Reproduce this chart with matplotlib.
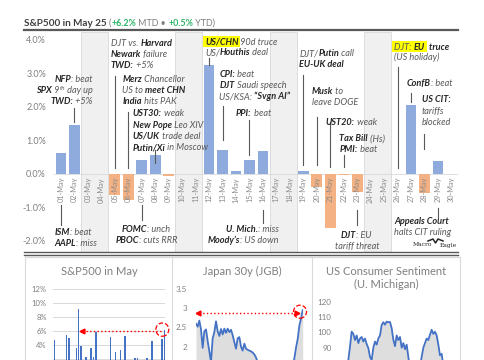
import matplotlib
matplotlib.use("Agg")
import matplotlib.pyplot as plt
from matplotlib.patches import Ellipse, Rectangle
from matplotlib.lines import Line2D

# ---- data ----
days = list(range(1, 31))
day_labels = [f"{d:02d}-May" for d in days]
trade_days = [1, 2, 5, 6, 7, 8, 9, 12, 13, 14, 15, 16, 19, 20, 21, 22, 23, 27, 28, 29, 30]
spx_chg = [0.63, 1.47, -0.64, -0.77, 0.43, 0.58, -0.07, 3.26, 0.72, 0.10, 0.41, 0.70,
           0.09, -0.39, -1.61, -0.04, -0.55, 2.05, -0.56, 0.40, -0.01]
weekends = [(3, 4), (10, 11), (17, 18), (24, 25)]

years = list(range(1980, 2026))
may_ret = [4.66, -0.19, -3.92, -1.16, -5.94, 5.41, 5.00, 0.60, 0.32, 3.51,
           9.20, 3.86, 0.10, 2.27, 1.23, 3.63, 2.29, 5.86, -1.88, -2.50,
           -2.19, 0.51, -0.91, 5.09, 1.21, 3.00, -3.09, 3.25, 1.07, 5.31,
           -8.20, -1.35, -6.27, 2.08, 2.10, 1.05, 1.53, 1.16, 2.16, -6.58,
           4.53, 0.55, 0.01, 0.25, 4.80, 6.15]

jgb30 = [2.60, 2.52, 2.68, 2.45, 1.97, 2.40, 2.45, 2.15, 1.88, 1.60,
         2.22, 2.38, 2.66, 2.40, 2.28, 2.46, 2.32, 2.47, 2.36, 2.47,
         2.38, 2.44, 2.30, 2.12, 1.95, 2.22, 2.25, 2.00, 1.90, 2.08,
         1.95, 1.92, 1.90, 1.88, 1.85, 1.80, 1.72, 1.60, 1.40, 1.20,
         1.00, 0.80, 0.60, 0.45, 0.35, 0.30, 0.45, 0.55, 0.50, 0.65,
         0.60, 0.70, 0.75, 0.70, 0.72, 0.85, 1.00, 1.25, 1.45, 1.70,
         1.98, 2.20, 2.55, 2.73, 2.95]

umich = [75, 70, 68, 72, 78, 82, 90.7, 100.5, 99, 95,
         98, 93, 96, 97, 94, 96, 92.4, 89.8, 84, 82,
         90, 94, 92, 96, 98, 104.8, 106.6, 105, 107, 106.6,
         106.8, 102.7, 95.3, 91, 98, 95, 97, 90, 93, 89,
         92, 84, 76, 62, 58, 68, 72, 75, 78, 84,
         90, 93, 96, 95, 98.5, 101.7, 99, 100.4, 98, 92,
         85, 86, 78, 72, 60, 68, 52]

# ---- layout helpers (pixel coords, y from top) ----
W, H = 485, 360
plt.rcParams['font.family'] = ['Lato', 'DejaVu Sans']
fig = plt.figure(figsize=(W / 100, H / 100), dpi=100)
renderer = fig.canvas.get_renderer()

TXT_C = '#595959'
BOLD_C = '#262626'
GRAY = '#7f7f7f'
BLUE = '#8faadc'
ORANGE = '#f4b183'
LINE_BLUE = '#4472c4'


def box(x0, y0, x1, y1):
    return [x0 / W, 1 - y1 / H, (x1 - x0) / W, (y1 - y0) / H]


def text_w(s, **kw):
    t = fig.text(0, 0, '|' + s + '|', **kw)
    t0 = fig.text(0, 0, '||', **kw)
    w = t.get_window_extent(renderer).width - t0.get_window_extent(renderer).width
    t.remove()
    t0.remove()
    return w


def rich(x, y, parts, ha='left', size=6.6, style='italic'):
    """draw one line made of (text, bold, opts) pieces; y is the line centre"""
    items = []
    for p in parts:
        s, b = p[0], p[1]
        o = p[2] if len(p) > 2 else {}
        kw = dict(fontsize=o.get('size', size), fontweight='bold' if b else 'normal',
                  style=o.get('style', style), color=o.get('color', BOLD_C if b else TXT_C))
        items.append((s, kw, o))
    widths = [text_w(s, **kw) for s, kw, o in items]
    total = sum(widths)
    x0 = x - total if ha == 'right' else (x - total / 2 if ha == 'center' else x)
    hl = []
    for (s, kw, o), w in zip(items, widths):
        fig.text(x0 / W, 1 - (y + 3 - o.get('dy', 0)) / H, s, va='baseline', ha='left', zorder=3, **kw)
        if o.get('hl'):
            hl.append((x0, x0 + w))
        x0 += w
    if hl:
        a, b = hl[0][0] - 2, hl[-1][1] + 2
        fig.add_artist(Rectangle((a / W, 1 - (y + 5.5) / H), (b - a) / W, 11.5 / H,
                                 transform=fig.transFigure, facecolor='#ffff00',
                                 edgecolor='none', zorder=1))


def hline(x0, x1, y, **kw):
    fig.add_artist(Line2D([x0 / W, x1 / W], [1 - y / H, 1 - y / H], transform=fig.transFigure, **kw))


def vline(x, y0, y1, **kw):
    fig.add_artist(Line2D([x / W, x / W], [1 - y0 / H, 1 - y1 / H], transform=fig.transFigure, **kw))


# ---- title ----
G = '#2fb56a'
rich(24, 22.5, [("S&P500 in May 25 ", True, {'color': '#404040', 'style': 'normal', 'size': 7.2}),
                ("(", False, {'color': GRAY, 'style': 'normal', 'size': 6.4}),
                ("+6.2%", True, {'color': G, 'style': 'normal', 'size': 6.4}),
                (" MTD \u2022 ", False, {'color': GRAY, 'style': 'normal', 'size': 6.4}),
                ("+0.5%", True, {'color': G, 'style': 'normal', 'size': 6.4}),
                (" YTD)", False, {'color': GRAY, 'style': 'normal', 'size': 6.4})])
hline(24, 458, 30, color='#595959', lw=1.6)
hline(24, 458, 251.7, color='#595959', lw=1.0)
hline(24, 458, 255, color='#595959', lw=1.0)

# ---- main daily chart ----
ax = fig.add_axes(box(54.3, 32, 458.1, 252))
ax.set_xlim(0.5, 30.5)
ax.set_ylim(-(252 - 174) / 33.5, (174 - 32) / 33.5)
for a, b in weekends:
    ax.axvspan(a - 0.5, b + 0.5, facecolor='#f0f0f0', edgecolor='#d9d9d9', lw=0.6, zorder=0)
ax.axhline(0, color='#d9d9d9', lw=0.6, zorder=1)
ax.bar(trade_days, spx_chg, width=0.8,
       color=[BLUE if v >= 0 else ORANGE for v in spx_chg], zorder=2)
for d, lab in zip(days, day_labels):
    ax.text(d, -0.09, lab, rotation=90, ha='center', va='top', fontsize=5.3, color='#8c8c8c')
ax.set_xticks([])
ax.set_yticks([-2, -1, 0, 1, 2, 3, 4])
ax.set_yticklabels([f"{v:.1f}%" for v in [-2, -1, 0, 1, 2, 3, 4]])
ax.tick_params(axis='y', length=0, labelsize=6.5, labelcolor=GRAY, pad=6)
for s in ax.spines.values():
    s.set_visible(False)

leaders = [(2, 1.97, 1.55), (5, 2.93, 0.18), (6, 1.85, 0.18), (8, 0.72, 0.33),
           (1, -0.93, -1.52), (7, -0.93, -1.37), (12, 3.46, 3.26), (13, 2.03, 1.0),
           (15, 1.6, 0.57), (16, -1.07, -1.46), (19, 2.96, 0.27), (20, 1.7, 0.27),
           (21, 1.55, 0.2), (22, 0.57, 0.2), (23, -1.07, -1.52), (26, 3.2, 0.18),
           (27, 2.42, 2.15), (28, 1.2, 0.75), (29, -1.01, -1.31)]
for d, y0, y1 in leaders:
    ax.plot([d, d], [y0, y1], color='#595959', lw=0.8, zorder=3)

# annotations
rich(92.7, 79.3, [("NFP", True), (": beat", False)], ha='right')
rich(92.7, 90, [("SPX", True), (" 9", False), ("th", False, {'size': 4.5, 'dy': 2.5}), (" day up", False)], ha='right')
rich(92.7, 101, [("TWD:", True), (" +5%", False)], ha='right')

rich(111, 42.7, [("DJT vs. ", False), ("Harvard", True)])
rich(111, 54, [("Newark", True), (" failure", False)])
rich(111, 65, [("TWD:", True), (" +5%", False)])

rich(122.3, 79.3, [("Merz", True), (" Chancellor", False)])
rich(122.3, 90, [("US to ", False), ("meet CHN", True)])
rich(122.3, 101, [("India", True), (" hits PAK", False)])

rich(132.7, 113.3, [("UST30:", True), (" weak", False)])
rich(132.7, 124.7, [("New Pope", True), (" Leo XIV", False)])
rich(132.7, 135.8, [("US/UK", True), (" trade deal", False)])
rich(132.7, 147, [("Putin/Xi", True), (" in Moscow", False)])

rich(205, 41.7, [("US/CHN", True, {'hl': True}), (" 90d truce", False)])
rich(205, 52.3, [("US/", False), ("Houthis", True), (" deal", False)])

rich(219.3, 74, [("CPI:", True), (" beat", False)])
rich(219.3, 85.3, [("DJT", True), (" Saudi speech", False)])
rich(219.3, 96, [("US/KSA: ", False), ("\u201cSvgn AI\u201d", True)])
rich(236, 112.7, [("PPI:", True), (" beat", False)])

rich(299.3, 53.3, [("DJT/", False), ("Putin", True), (" call", False)])
rich(299.3, 64.3, [("EU-UK deal", True)])
rich(311.7, 90.7, [("Musk", True), (" to", False)])
rich(311.7, 101.7, [("leave DOGE", False)])
rich(325.7, 122, [("UST20:", True), (" weak", False)])
rich(339.3, 138.3, [("Tax Bill", True), (" (Hs)", False)])
rich(339.3, 149.3, [("PMI:", True), (" beat", False)])

rich(394, 46.7, [("DJT: ", False, {'hl': True}), ("EU", True, {'hl': True}), ("  truce", True)])
rich(394, 57.3, [("(US holiday)", False)])
rich(406.7, 83.3, [("ConfB", True), (": beat", False)])
rich(421.7, 99.3, [("US CIT:", True)])
rich(421.7, 111, [("tariffs", False)])
rich(421.7, 122.3, [("blocked", False)])

rich(54.3, 231.7, [("ISM", True), (": beat", False)])
rich(54.3, 242.7, [("AAPL", True), (": miss", False)])
rich(121.7, 229, [("FOMC", True), (": unch", False)])
rich(115.7, 240, [("PBOC", True), (": cuts RRR", False)])
rich(279, 229.3, [("U. Mich.", True), (": miss", False)], ha='right')
rich(279, 240.3, [("Moody\u2019s", True), (": US down", False)], ha='right')
rich(341, 235, [("DJT", True), (": EU", False)])
rich(335, 245.7, [("tariff threat", False)])
rich(394, 221, [("Appeals Court", True)])
rich(394, 232.3, [("halts CIT ruling", False)])

# logo
fig.text(413 / W, 1 - 246.5 / H, "Macro", fontsize=4.3, family='DejaVu Serif', color='#262626')
fig.text(440 / W, 1 - 246.5 / H, "Eagle", fontsize=4.3, family='DejaVu Serif', color='#262626')
fig.add_artist(Line2D([428 / W, 433 / W, 435.5 / W, 438 / W, 443 / W],
                      [1 - 241 / H, 1 - 239 / H, 1 - 243 / H, 1 - 239 / H, 1 - 241 / H],
                      transform=fig.transFigure, color='#262626', lw=1.1))

# ---- bottom panels ----
PB = '#d9d9d9'
hline(25, 460, 257.3, color=PB, lw=0.8, zorder=2)
for xv in [25, 172.3, 311.7, 460]:
    vline(xv, 257.3, 362, color=PB, lw=0.8, zorder=2)

fig.text(99.5 / W, 1 - 271.7 / H, "S&P500 in May", ha='center', va='center', fontsize=8, color=GRAY)
fig.text(242 / W, 1 - 271.7 / H, "Japan 30y (JGB)", ha='center', va='center', fontsize=8, color=GRAY)
fig.text(386 / W, 1 - 271.7 / H, "US Consumer Sentiment", ha='center', va='center', fontsize=8, color=GRAY)
fig.text(386 / W, 1 - 284.5 / H, "(U. Michigan)", ha='center', va='center', fontsize=8, color=GRAY)

# S&P500 May returns by year
ax1 = fig.add_axes(box(53.1, 289, 165.5, 373))
ax1.set_xlim(1979.5, 2025.5)
ax1.set_ylim(0, 12)
ax1.set_yticks(range(2, 13, 2))
ax1.set_yticklabels(["" if v == 2 else f"{v}%" for v in range(2, 13, 2)])
ax1.yaxis.grid(True, color=PB, lw=0.7)
ax1.set_axisbelow(True)
ax1.bar(years, may_ret, width=0.6, color=LINE_BLUE, zorder=2)
ax1.plot([years[-1] - 1.2, 1991.3], [may_ret[-1] - 0.1] * 2, ls=':', color='#ff0000', lw=1.0, zorder=3)
ax1.plot([1991.3], [may_ret[-1] - 0.1], marker='<', color='#ff0000', ms=3.5, zorder=3)
ax1.add_patch(Ellipse((years[-1] - 0.8, may_ret[-1] + 0.05), 5.3, 1.9, fill=False, ls='--',
                      ec='#ff0000', lw=0.9, clip_on=False, zorder=4))

# JGB 30y
ax2 = fig.add_axes(box(196, 289, 302.7, 423.75))
xs = list(range(len(jgb30)))
ax2.set_xlim(0, len(jgb30) - 1)
ax2.set_ylim(0, 3.5)
ax2.fill_between(xs, jgb30, color='#dedede', lw=0)
ax2.plot(xs, jgb30, color=LINE_BLUE, lw=1.3)
ax2.set_yticks([2, 2.5, 3, 3.5])
ax2.set_yticklabels([f"{v:g}" for v in [2, 2.5, 3, 3.5]])
ax2.plot([1.5, len(jgb30) - 4.5], [2.88, 2.88], ls=':', color='#ff0000', lw=1.0)
ax2.plot([1.0], [2.88], marker='<', color='#ff0000', ms=3.5)
ax2.plot([len(jgb30) - 4.5], [2.88], marker='>', color='#ff0000', ms=3.5)
ax2.add_patch(Ellipse((len(jgb30) - 2.6, jgb30[-1] - 0.04), 7.8, 0.34, fill=False, ls='--',
                      ec='#ff0000', lw=0.9, clip_on=False, zorder=4))

# UMich sentiment
ax3 = fig.add_axes(box(340, 301.7, 450, 424.4))
xs3 = list(range(len(umich)))
ax3.set_xlim(0, len(umich) - 1)
ax3.set_ylim(40, 120)
ax3.fill_between(xs3, umich, 40, color='#dedede', lw=0)
ax3.plot(xs3, umich, color=LINE_BLUE, lw=1.3)
ax3.set_yticks(range(90, 121, 10))

for a in (ax1, ax2, ax3):
    a.set_xticks([])
    a.set_facecolor('none')
    for s in a.spines.values():
        s.set_visible(False)
ax1.tick_params(axis='y', length=0, labelsize=5.5, labelcolor=GRAY, pad=4.5)
ax2.tick_params(axis='y', length=0, labelsize=5.8, labelcolor=GRAY, pad=6.5)
ax3.tick_params(axis='y', length=0, labelsize=5.8, labelcolor=GRAY, pad=6)

fig.savefig("out.png", dpi=100, facecolor='white')
